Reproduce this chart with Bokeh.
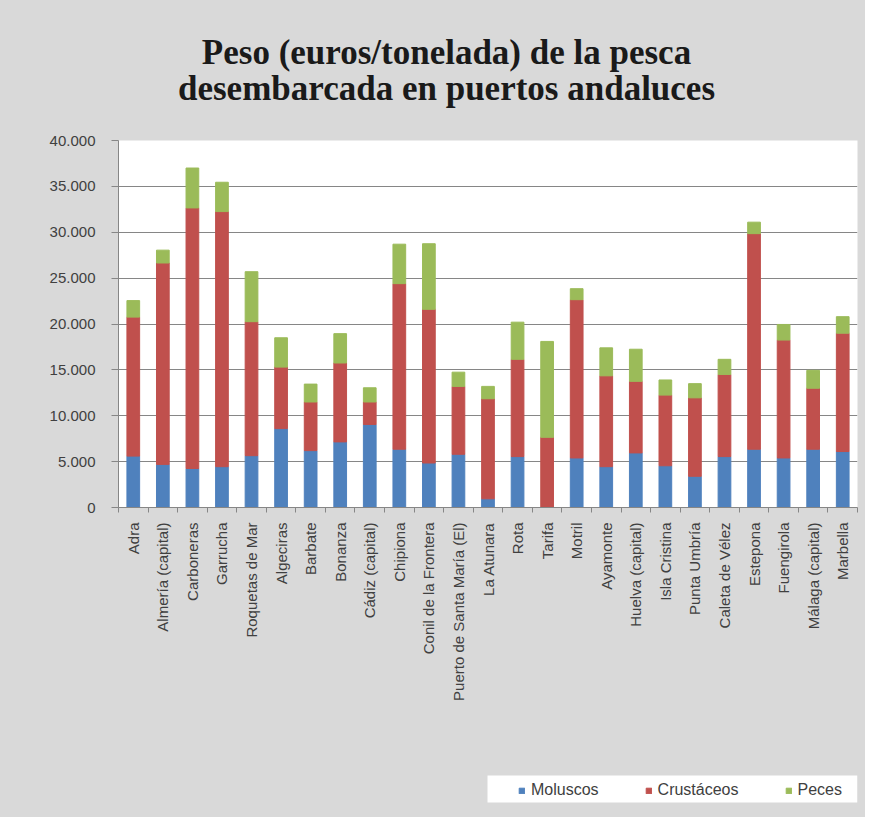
from bokeh.plotting import figure
from bokeh.models import ColumnDataSource, FixedTicker, Range1d, Legend, LegendItem
from bokeh.layouts import column
from bokeh.core.properties import value
from bokeh.embed import file_html
from bokeh.resources import INLINE

ports = ["Adra", "Almería (capital)", "Carboneras", "Garrucha", "Roquetas de Mar",
         "Algeciras", "Barbate", "Bonanza", "Cádiz (capital)", "Chipiona",
         "Conil de la Frontera", "Puerto de Santa María (El)", "La Atunara", "Rota",
         "Tarifa", "Motril", "Ayamonte", "Huelva (capital)", "Isla Cristina",
         "Punta Umbría", "Caleta de Vélez", "Estepona", "Fuengirola",
         "Málaga (capital)", "Marbella"]
moluscos = [5600, 4700, 4250, 4450, 5650, 8600, 6200, 7150, 9050, 6350,
            4850, 5800, 950, 5550, 0, 5400, 4450, 5950, 4550, 3400,
            5550, 6350, 5400, 6350, 6100]
crustaceos = [15150, 21950, 28400, 27800, 14600, 6700, 5300, 8600, 2450, 18050,
              16750, 7400, 10900, 10600, 7650, 17250, 9900, 7800, 7700, 8550,
              8950, 23500, 12850, 6650, 12900]
peces = [1800, 1400, 4350, 3200, 5450, 3200, 1950, 3200, 1550, 4300,
         7150, 1550, 1350, 4050, 10450, 1200, 3050, 3500, 1650, 1550,
         1650, 1250, 1700, 1950, 1800]
series = ["Moluscos", "Crustáceos", "Peces"]
colors = ["#4f81bd", "#c0504d", "#9bbb59"]
y_ticks = [0, 5000, 10000, 15000, 20000, 25000, 30000, 35000, 40000]
y_tick_labels = ["0", "5.000", "10.000", "15.000", "20.000", "25.000", "30.000", "35.000", "40.000"]
title_lines = ["Peso (euros/tonelada) de la pesca", "desembarcada en puertos andaluces"]

GRAY = "#d9d9d9"
W = 865
FRAME_L, FRAME_R = 118, 857          # plot-area edges (pixels)
TITLE_H, MAIN_H, LEG_H = 130, 635, 52

def strip(height):
    f = figure(width=W, height=height, output_backend="svg", toolbar_location=None,
               x_range=Range1d(FRAME_L, FRAME_R), y_range=Range1d(0, height),
               x_axis_type=None, y_axis_type=None,
               min_border_left=FRAME_L, min_border_right=W - FRAME_R,
               min_border_top=0, min_border_bottom=0)
    f.background_fill_color = GRAY
    f.border_fill_color = GRAY
    f.outline_line_color = GRAY
    f.outline_line_width = 3
    f.grid.visible = False
    return f

# ---------------- title strip (pixel coordinates) ----------------
tf = strip(TITLE_H)
tf.text(x=[446, 446], y=[TITLE_H - 52, TITLE_H - 88], text=title_lines,
        text_align="center", text_baseline="middle",
        text_font=value("Liberation Serif"), text_font_style="bold",
        text_font_size="35px", text_color="#1a1a1a")

# ---------------- main chart ----------------
n = len(ports)
xs = list(range(1, n + 1))
source = ColumnDataSource(dict(x=xs, Moluscos=moluscos, Crustáceos=crustaceos, Peces=peces))

p = figure(width=W, height=MAIN_H, output_backend="svg", toolbar_location=None,
           x_range=Range1d(0.5, n + 0.5), y_range=Range1d(0, 40000),
           min_border_left=FRAME_L, min_border_right=W - FRAME_R,
           min_border_top=10, min_border_bottom=258)
p.background_fill_color = "white"
p.border_fill_color = GRAY
p.outline_line_color = None

p.vbar_stack(series, x="x", width=0.43, source=source, color=colors)

p.yaxis.ticker = FixedTicker(ticks=y_ticks)
p.yaxis.major_label_overrides = dict(zip(y_ticks, y_tick_labels))
p.yaxis.axis_line_color = "#868686"
p.yaxis.major_tick_line_color = "#868686"
p.yaxis.major_tick_out = 7
p.yaxis.major_tick_in = 0
p.yaxis.minor_tick_line_color = None
p.yaxis.major_label_standoff = 16
p.yaxis.major_label_text_font = "Liberation Sans"
p.yaxis.major_label_text_font_size = "15px"
p.yaxis.major_label_text_color = "#404040"

p.xaxis.ticker = FixedTicker(ticks=xs, minor_ticks=[i + 0.5 for i in range(0, n + 1)])
p.xaxis.major_label_overrides = dict(zip(xs, ports))
p.xaxis.major_label_orientation = 3.14159265 / 2
p.xaxis.axis_line_color = "#868686"
p.xaxis.major_tick_line_color = None
p.xaxis.major_tick_out = 0
p.xaxis.major_tick_in = 0
p.xaxis.minor_tick_line_color = "#868686"
p.xaxis.minor_tick_out = 5
p.xaxis.minor_tick_in = 0
p.xaxis.major_label_standoff = 10
p.xaxis.major_label_text_font = "Liberation Sans"
p.xaxis.major_label_text_font_size = "15px"
p.xaxis.major_label_text_color = "#404040"

p.xgrid.visible = False
p.ygrid.grid_line_color = "#868686"

# ---------------- legend strip (pixel coordinates) ----------------
lf = strip(LEG_H)
lf.quad(left=[487], right=[FRAME_R], bottom=[LEG_H - 37], top=[LEG_H - 10],
        fill_color="white", line_color=None)
# zero-height proxies (placed off-screen) that only supply the legend swatches
dummies = [lf.vbar(x=[0], top=[0], bottom=[0], width=1, color=c) for c in colors]
lg = Legend(items=[LegendItem(label=s, renderers=[r]) for s, r in zip(series, dummies)],
            orientation="horizontal", location=(518 - FRAME_L, 18),
            background_fill_alpha=0, border_line_color=None,
            glyph_width=7, glyph_height=7, label_standoff=6, spacing=46,
            padding=0, margin=0,
            label_text_font="Liberation Sans", label_text_font_size="16px",
            label_text_color="#404040")
lf.add_layout(lg)

layout = column(tf, p, lf, spacing=0, styles={"background-color": GRAY})
open("out.html", "w").write(file_html(layout, INLINE))
